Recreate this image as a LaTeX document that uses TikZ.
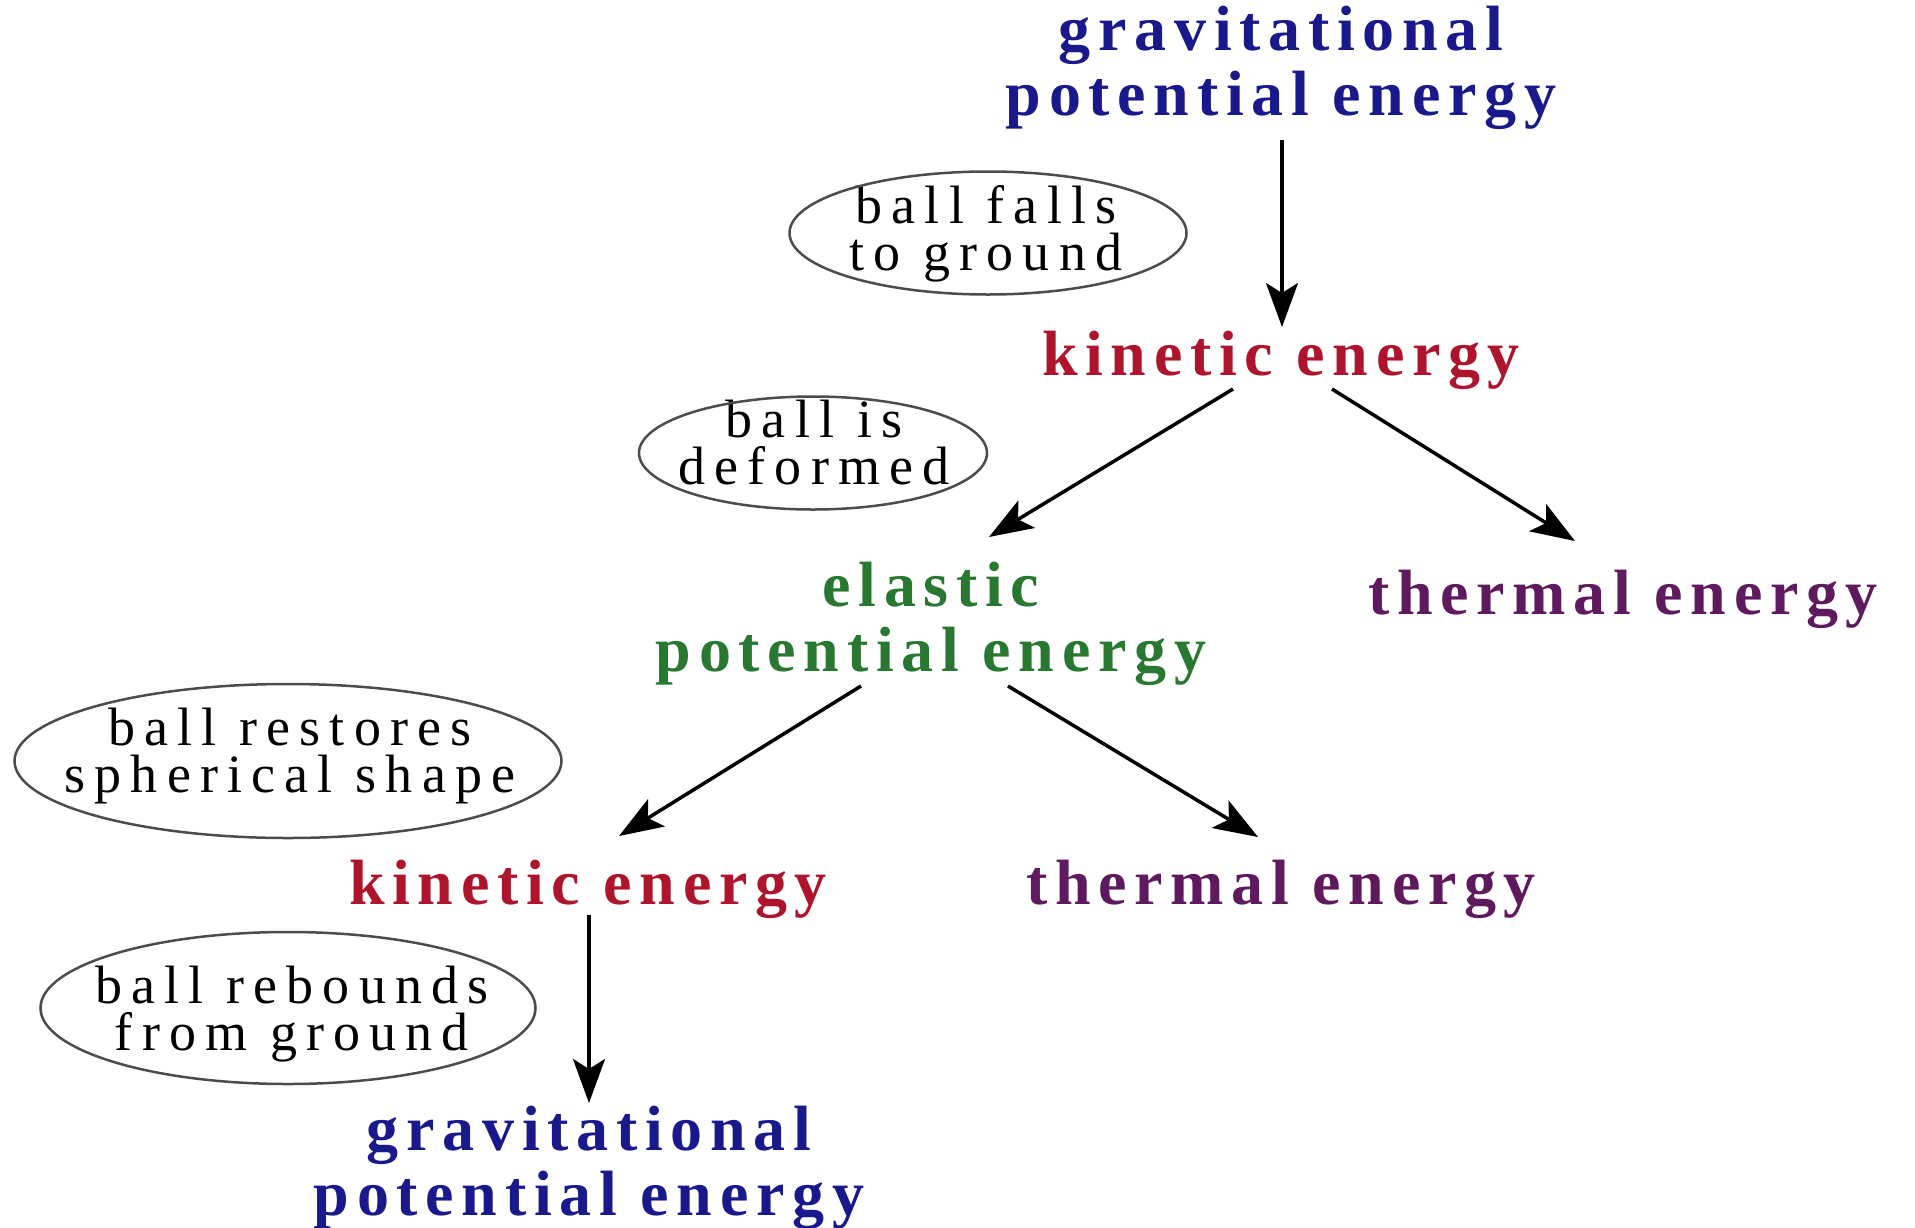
\documentclass[tikz,border=0pt]{standalone}
\usepackage{fontspec}
\setmainfont{Liberation Serif}
\newfontfamily\boldspaced[LetterSpace=12]{Liberation Serif}
\newfontfamily\plainspaced[LetterSpace=17]{Liberation Serif}
\usetikzlibrary{shapes.geometric,arrows.meta}
\definecolor{gpeblue}{RGB}{25,25,140}
\definecolor{kered}{RGB}{175,20,45}
\definecolor{epegreen}{RGB}{40,120,50}
\definecolor{thpurple}{RGB}{95,25,95}
\begin{document}
\begin{tikzpicture}[x=1pt,y=-1pt,
  energy/.style={font=\boldspaced\bfseries\fontsize{64pt}{65pt}\selectfont, align=center, inner sep=0pt},
  event/.style={inner sep=0pt, align=center, font=\plainspaced\fontsize{54pt}{47pt}\selectfont},
  ring/.style={draw=black!70, line width=2.5pt},
  arr/.style={line width=3.5pt, -{Stealth[length=44pt,width=32pt,inset=10pt]}}]
\fill[white] (0,0) rectangle (1915,1227);
\useasboundingbox (0,0) rectangle (1915,1227);

% energy nodes
\node[energy, text=gpeblue]  (gpe1) at (1281,68)    {gravitational\\potential energy};
\node[energy, text=kered]    (ke1)  at (1281,360.5) {kinetic energy};
\node[energy, text=epegreen] (epe)  at (931,623.5)  {elastic\\potential energy};
\node[energy, text=thpurple] (th1)  at (1623,599.5) {thermal energy};
\node[energy, text=kered]    (ke2)  at (588,889.5)  {kinetic energy};
\node[energy, text=thpurple] (th2)  at (1281,889.5) {thermal energy};
\node[energy, text=gpeblue]  (gpe2) at (589,1168)   {gravitational\\potential energy};

% event labels with their ellipses
\node[event] (falls)    at (986,233.5)  {ball falls\\to ground};
\node[event] (deformed) at (814,443)    {ball is\\deformed};
\node[event] (restores) at (290,756.5)  {ball restores\\spherical shape};
\node[event] (rebounds) at (292,1014)   {ball rebounds\\from ground};
\draw[ring] ([shift={(2,-0.5)}]falls.center)    ellipse [x radius=198.5, y radius=61.5];
\draw[ring] ([shift={(-1,10)}]deformed.center)  ellipse [x radius=174, y radius=56.5];
\draw[ring] ([shift={(-2,4.5)}]restores.center) ellipse [x radius=273.5, y radius=77];
\draw[ring] ([shift={(-4,-6)}]rebounds.center)  ellipse [x radius=247.5, y radius=76];

% connectors
\draw[arr] ([shift={(1,72)}]gpe1.center)   -- ([shift={(1,-33.5)}]ke1.center);
\draw[arr] ([shift={(-48,28.5)}]ke1.center) -- ([shift={(58,-86.5)}]epe.center);
\draw[arr] ([shift={(51,28.5)}]ke1.center)  -- ([shift={(-48,-58.5)}]th1.center);
\draw[arr] ([shift={(-70,62.5)}]epe.center) -- ([shift={(31,-53.5)}]ke2.center);
\draw[arr] ([shift={(77,62.5)}]epe.center)  -- ([shift={(-23,-52.5)}]th2.center);
\draw[arr] ([shift={(1,25.5)}]ke2.center)   -- ([shift={(0,-65)}]gpe2.center);
\end{tikzpicture}
\end{document}
